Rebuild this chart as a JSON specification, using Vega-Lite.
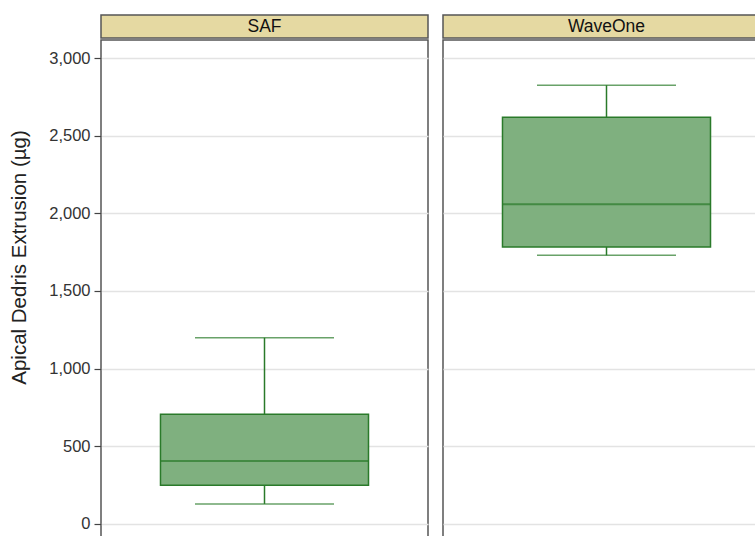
{
  "$schema": "https://vega.github.io/schema/vega-lite/v6.json",
  "padding": {"left": 8, "top": 14, "right": 0, "bottom": 0},
  "background": "white",
  "datasets": {
    "boxes": [
      {"group": "SAF", "min": 129, "q1": 250, "median": 406, "q3": 706, "max": 1199},
      {"group": "WaveOne", "min": 1730, "q1": 1784, "median": 2059, "q3": 2619, "max": 2825}
    ]
  },
  "spacing": 13,
  "hconcat": [
    {
      "spacing": 0,
      "vconcat": [
        {
          "width": 327, "height": 23,
          "data": {"name": "boxes"},
          "transform": [{"filter": "datum.group === 'SAF'"}],
          "view": {"fill": "#e5d9a2", "stroke": "#555555", "strokeWidth": 1.5},
          "mark": {"type": "text", "font": "Liberation Sans", "fontSize": 17.5, "color": "#111111"},
          "encoding": {"text": {"field": "group"}}
        },
        {
          "width": 327, "height": 499.5,
          "data": {"name": "boxes"},
          "transform": [{"filter": "datum.group === 'SAF'"}],
          "view": {"stroke": "#555555", "strokeWidth": 1.5},
          "encoding": {
            "x": {"field": "group", "type": "nominal", "axis": null, "scale": {"paddingInner": 0, "paddingOuter": 0.286}}
          },
          "layer": [
            {
              "mark": {"type": "rule", "color": "#2a7a2a", "strokeWidth": 1.5},
              "encoding": {
                "y": {"field": "min", "type": "quantitative",
                  "scale": {"domain": [-100, 3116], "nice": false, "zero": false},
                  "axis": {"values": [0, 500, 1000, 1500, 2000, 2500, 3000], "format": ",.0f", "title": "Apical Dedris Extrusion (µg)",
                    "grid": true, "gridColor": "#e3e3e3", "gridWidth": 1.5, "domain": false, "tickColor": "#444444", "tickSize": 7, "tickWidth": 1.2,
                    "labelFont": "Liberation Sans", "labelFontSize": 16.5, "labelColor": "#333333", "labelPadding": 4,
                    "titleFont": "Liberation Sans", "titleFontSize": 20.5, "titleFontWeight": "normal", "titleColor": "#222222", "titlePadding": 19, "titleY": 217}},
                "y2": {"field": "max"}
              }
            },
            {
              "mark": {"type": "bar", "fill": "#7fb07f", "stroke": "#2a7a2a", "strokeWidth": 1.5},
              "encoding": {"y": {"field": "q1", "type": "quantitative"}, "y2": {"field": "q3"}}
            },
            {
              "mark": {"type": "tick", "color": "#2a7a2a", "size": 208, "thickness": 2},
              "encoding": {"y": {"field": "median", "type": "quantitative"}}
            },
            {
              "mark": {"type": "tick", "color": "#2a7a2a", "size": 139, "thickness": 1.5},
              "encoding": {"y": {"field": "min", "type": "quantitative"}}
            },
            {
              "mark": {"type": "tick", "color": "#2a7a2a", "size": 139, "thickness": 1.5},
              "encoding": {"y": {"field": "max", "type": "quantitative"}}
            }
          ]
        }
      ]
    },
    {
      "spacing": 0,
      "vconcat": [
        {
          "width": 327, "height": 23,
          "data": {"name": "boxes"},
          "transform": [{"filter": "datum.group === 'WaveOne'"}],
          "view": {"fill": "#e5d9a2", "stroke": "#555555", "strokeWidth": 1.5},
          "mark": {"type": "text", "font": "Liberation Sans", "fontSize": 17.5, "color": "#111111"},
          "encoding": {"text": {"field": "group"}}
        },
        {
          "width": 327, "height": 499.5,
          "data": {"name": "boxes"},
          "transform": [{"filter": "datum.group === 'WaveOne'"}],
          "view": {"stroke": "#555555", "strokeWidth": 1.5},
          "encoding": {
            "x": {"field": "group", "type": "nominal", "axis": null, "scale": {"paddingInner": 0, "paddingOuter": 0.286}}
          },
          "layer": [
            {
              "mark": {"type": "rule", "color": "#2a7a2a", "strokeWidth": 1.5},
              "encoding": {
                "y": {"field": "min", "type": "quantitative",
                  "scale": {"domain": [-100, 3116], "nice": false, "zero": false},
                  "axis": {"values": [0, 500, 1000, 1500, 2000, 2500, 3000], "title": null, "labels": false, "ticks": false, "domain": false,
                    "grid": true, "gridColor": "#e3e3e3", "gridWidth": 1.5}},
                "y2": {"field": "max"}
              }
            },
            {
              "mark": {"type": "bar", "fill": "#7fb07f", "stroke": "#2a7a2a", "strokeWidth": 1.5},
              "encoding": {"y": {"field": "q1", "type": "quantitative"}, "y2": {"field": "q3"}}
            },
            {
              "mark": {"type": "tick", "color": "#2a7a2a", "size": 208, "thickness": 2},
              "encoding": {"y": {"field": "median", "type": "quantitative"}}
            },
            {
              "mark": {"type": "tick", "color": "#2a7a2a", "size": 139, "thickness": 1.5},
              "encoding": {"y": {"field": "min", "type": "quantitative"}}
            },
            {
              "mark": {"type": "tick", "color": "#2a7a2a", "size": 139, "thickness": 1.5},
              "encoding": {"y": {"field": "max", "type": "quantitative"}}
            }
          ]
        }
      ]
    }
  ]
}
